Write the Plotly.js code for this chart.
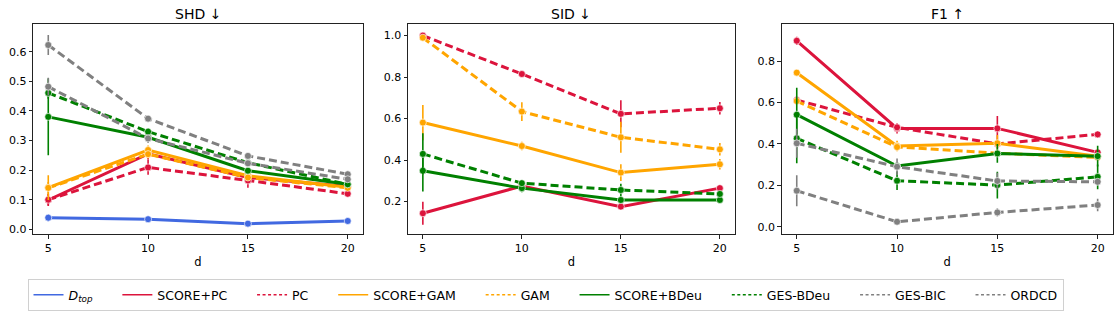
<!DOCTYPE html>
<html>
<head>
<meta charset="utf-8">
<script src="https://cdn.plot.ly/plotly-3.0.1.min.js"></script>
<style>html,body{margin:0;padding:0;background:#fff;}#chart{width:1120px;height:316px;}</style>
</head>
<body>
<div id="chart"></div>
<script>
// ---- data ----
const d = [5, 10, 15, 20];
const metricTitles = ["SHD ↓", "SID ↓", "F1 ↑"];
const xTickVals = [5, 10, 15, 20];

const seriesNames = ["D_top", "SCORE+PC", "PC", "SCORE+GAM", "GAM", "SCORE+BDeu", "GES-BDeu", "GES-BIC", "ORDCD"];
const legendLabels = ["<i>D</i><sub><i>top</i></sub>", "SCORE+PC", "PC", "SCORE+GAM", "GAM", "SCORE+BDeu", "GES-BDeu", "GES-BIC", "ORDCD"];

// SHD
const dtop_shd      = [0.039, 0.034, 0.019, 0.028];
const dtop_shd_err  = [0.012, 0.010, 0.005, 0.005];
const scorepc_shd   = [0.099, 0.255, 0.175, 0.145];
const scorepc_shd_err = [0.020, 0.020, 0.010, 0.008];
const pc_shd        = [0.100, 0.209, 0.165, 0.120];
const pc_shd_err    = [0.020, 0.025, 0.025, 0.008];
const scoregam_shd  = [0.141, 0.268, 0.181, 0.142];
const scoregam_shd_err = [0.042, 0.015, 0.010, 0.008];
const gam_shd       = [0.140, 0.254, 0.175, 0.140];
const gam_shd_err   = [0.020, 0.015, 0.010, 0.008];
const scorebdeu_shd = [0.380, 0.311, 0.198, 0.152];
const scorebdeu_shd_err = [0.130, 0.010, 0.008, 0.006];
const gesbdeu_shd   = [0.461, 0.330, 0.225, 0.152];
const gesbdeu_shd_err = [0.020, 0.012, 0.008, 0.006];
const gesbic_shd    = [0.623, 0.374, 0.248, 0.186];
const gesbic_shd_err = [0.034, 0.010, 0.008, 0.005];
const ordcd_shd     = [0.482, 0.307, 0.223, 0.169];
const ordcd_shd_err = [0.030, 0.015, 0.008, 0.005];

// SID
const scorepc_sid   = [0.144, 0.275, 0.176, 0.265];
const scorepc_sid_err = [0.055, 0.010, 0.010, 0.012];
const pc_sid        = [1.000, 0.815, 0.623, 0.650];
const pc_sid_err    = [0.005, 0.010, 0.065, 0.030];
const scoregam_sid  = [0.581, 0.468, 0.340, 0.380];
const scoregam_sid_err = [0.085, 0.020, 0.040, 0.025];
const gam_sid       = [0.990, 0.634, 0.510, 0.452];
const gam_sid_err   = [0.010, 0.045, 0.075, 0.030];
const scorebdeu_sid = [0.349, 0.265, 0.208, 0.208];
const scorebdeu_sid_err = [0.100, 0.020, 0.015, 0.012];
const gesbdeu_sid   = [0.430, 0.289, 0.256, 0.237];
const gesbdeu_sid_err = [0.100, 0.015, 0.030, 0.012];

// F1
const scorepc_f1    = [0.898, 0.475, 0.475, 0.359];
const scorepc_f1_err = [0.020, 0.025, 0.060, 0.008];
const pc_f1         = [0.612, 0.480, 0.400, 0.446];
const pc_f1_err     = [0.010, 0.010, 0.010, 0.015];
const scoregam_f1   = [0.744, 0.390, 0.403, 0.340];
const scoregam_f1_err = [0.010, 0.025, 0.040, 0.008];
const gam_f1        = [0.607, 0.385, 0.355, 0.335];
const gam_f1_err    = [0.010, 0.010, 0.008, 0.008];
const scorebdeu_f1  = [0.541, 0.293, 0.354, 0.341];
const scorebdeu_f1_err = [0.130, 0.010, 0.045, 0.050];
const gesbdeu_f1    = [0.427, 0.222, 0.201, 0.241];
const gesbdeu_f1_err = [0.120, 0.045, 0.065, 0.060];
const gesbic_f1     = [0.174, 0.024, 0.069, 0.105];
const gesbic_f1_err = [0.075, 0.015, 0.020, 0.030];
const ordcd_f1      = [0.403, 0.290, 0.221, 0.217];
const ordcd_f1_err  = [0.070, 0.040, 0.040, 0.010];

// ---- styles ----
const colors = {"D_top":"#4169E1","SCORE+PC":"#DC143C","PC":"#DC143C","SCORE+GAM":"#FFA500","GAM":"#FFA500",
  "SCORE+BDeu":"#008000","GES-BDeu":"#008000","GES-BIC":"#808080","ORDCD":"#808080"};
const dashed = {"D_top":false,"SCORE+PC":false,"PC":true,"SCORE+GAM":false,"GAM":true,
  "SCORE+BDeu":false,"GES-BDeu":true,"GES-BIC":true,"ORDCD":true};

const panels = [
  {axis:"", data:{"D_top":[dtop_shd,dtop_shd_err],"SCORE+PC":[scorepc_shd,scorepc_shd_err],"PC":[pc_shd,pc_shd_err],
    "SCORE+GAM":[scoregam_shd,scoregam_shd_err],"GAM":[gam_shd,gam_shd_err],"SCORE+BDeu":[scorebdeu_shd,scorebdeu_shd_err],
    "GES-BDeu":[gesbdeu_shd,gesbdeu_shd_err],"GES-BIC":[gesbic_shd,gesbic_shd_err],"ORDCD":[ordcd_shd,ordcd_shd_err]}},
  {axis:"2", data:{"SCORE+PC":[scorepc_sid,scorepc_sid_err],"PC":[pc_sid,pc_sid_err],
    "SCORE+GAM":[scoregam_sid,scoregam_sid_err],"GAM":[gam_sid,gam_sid_err],"SCORE+BDeu":[scorebdeu_sid,scorebdeu_sid_err],
    "GES-BDeu":[gesbdeu_sid,gesbdeu_sid_err]}},
  {axis:"3", data:{"SCORE+PC":[scorepc_f1,scorepc_f1_err],"PC":[pc_f1,pc_f1_err],
    "SCORE+GAM":[scoregam_f1,scoregam_f1_err],"GAM":[gam_f1,gam_f1_err],"SCORE+BDeu":[scorebdeu_f1,scorebdeu_f1_err],
    "GES-BDeu":[gesbdeu_f1,gesbdeu_f1_err],"GES-BIC":[gesbic_f1,gesbic_f1_err],"ORDCD":[ordcd_f1,ordcd_f1_err]}}
];

const traces = [];
panels.forEach(p => {
  seriesNames.forEach(name => {
    if (!p.data[name]) return;
    const [vals, errs] = p.data[name];
    traces.push({
      type:"scatter", mode:"lines+markers", x:d, y:vals,
      xaxis:"x"+p.axis, yaxis:"y"+p.axis, showlegend:false, name:name,
      line:{color:colors[name], width:3, dash: dashed[name] ? "8px,4px" : "solid"},
      marker:{color:colors[name], size:7, line:{color:"rgba(255,255,255,0.8)", width:0.8}},
      error_y:{type:"data", array:errs, visible:true, color:colors[name], thickness:1.6, width:0}
    });
  });
});
// legend entries (trailing non-breaking spaces widen the gap between entries)
const pad = "\u00a0\u00a0\u00a0\u00a0\u00a0";
seriesNames.forEach((name, i) => {
  traces.push({type:"scatter", mode:"lines", x:[null], y:[null], xaxis:"x", yaxis:"y",
    name: legendLabels[i] + (i < seriesNames.length - 1 ? pad : ""), showlegend:true,
    line:{color:colors[name], width:1.5, dash: dashed[name] ? "3px,2.5px" : "solid"}});
});

const W = 1120, H = 316;
const yDom = [1 - 234/H, 1 - 24/H];
function axX(dom){ return {domain:dom, range:[4.25,20.75], tickvals:xTickVals, ticks:"outside", ticklen:3.5, tickwidth:1,
  tickcolor:"#222", showline:true, linecolor:"#222", linewidth:1, mirror:true, showgrid:false, zeroline:false,
  tickfont:{size:11, color:"#000"}, title:{text:"d", font:{size:11.5, color:"#000"}, standoff:4}}; }
function axY(range, dtick, anchor){ return {domain:yDom, range:range, dtick:dtick, ticks:"outside", ticklen:3.5, tickwidth:1,
  tickcolor:"#222", showline:true, linecolor:"#222", linewidth:1, mirror:true, showgrid:false, zeroline:false,
  tickformat:".1f", tickfont:{size:11, color:"#000"}, anchor:anchor}; }

const layout = {
  width:W, height:H, margin:{l:0, r:0, t:0, b:0}, paper_bgcolor:"#fff", plot_bgcolor:"#fff",
  font:{family:"DejaVu Sans", color:"#000"},
  xaxis: Object.assign(axX([33.3/W, 362.7/W]), {anchor:"y"}),
  yaxis: axY([-0.016, 0.694], 0.1, "x"),
  xaxis2: Object.assign(axX([408/W, 734.7/W]), {anchor:"y2"}),
  yaxis2: axY([0.044, 1.056], 0.2, "x2"),
  xaxis3: Object.assign(axX([781.7/W, 1112.7/W]), {anchor:"y3"}),
  yaxis3: axY([-0.035, 0.979], 0.2, "x3"),
  showlegend:true,
  legend:{orientation:"h", x:545.5/W, xanchor:"center", y:1 - 295/H, yanchor:"middle",
    bordercolor:"#d0d0d0", borderwidth:1, bgcolor:"#fff", font:{size:12.5, color:"#000"}, itemwidth:30, tracegroupgap:0},
  annotations: metricTitles.map((t, i) => ({text:t, xref:(i===0?"x":"x"+(i+1))+" domain", x:0.5, xanchor:"center",
    yref:"paper", y:1 - 14/H, yanchor:"middle", showarrow:false, font:{size:14, color:"#000"}}))
};

Plotly.newPlot("chart", traces, layout, {staticPlot:true, displayModeBar:false});
</script>
</body>
</html>
